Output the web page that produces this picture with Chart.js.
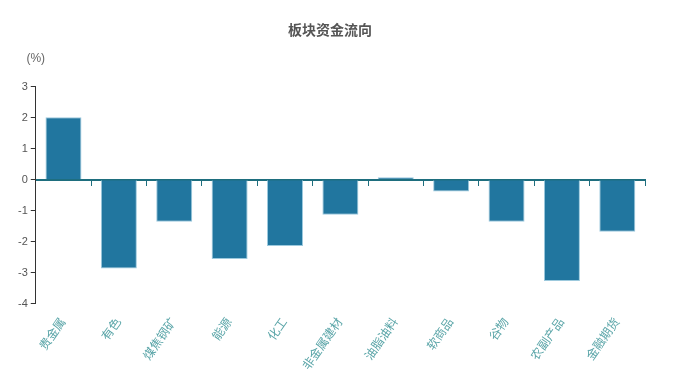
<!DOCTYPE html>
<html><head><meta charset="utf-8">
<script src="https://cdn.jsdelivr.net/npm/chart.js@4.4.1/dist/chart.umd.min.js"></script>
<style>html,body{margin:0;padding:0;background:#fff}#wrap{width:683px;height:383px}</style>
</head><body><div id="wrap"><canvas id="c"></canvas></div>
<script>
const categories = ['贵金属','有色','煤焦钢矿','能源','化工','非金属建材','油脂油料','软商品','谷物','农副产品','金融期货'];
const values = [2.02, -2.87, -1.36, -2.56, -2.14, -1.13, 0.08, -0.38, -1.36, -3.27, -1.68];
const yTicks = [3, 2, 1, 0, -1, -2, -3, -4];
const FONT = "'Liberation Sans', 'Noto Sans CJK SC', sans-serif";

const unitLabel = {
  id: 'unitLabel',
  afterDraw(chart) {
    const ctx = chart.ctx, a = chart.chartArea;
    ctx.save();
    ctx.font = '12px ' + FONT;
    ctx.fillStyle = '#666';
    ctx.textAlign = 'center';
    ctx.textBaseline = 'middle';
    ctx.fillText('(%)', a.left, a.top - 28);
    ctx.restore();
  }
};

new Chart(document.getElementById('c'), {
  type: 'bar',
  data: {
    labels: categories,
    datasets: [{
      data: values,
      backgroundColor: '#21769f',
      borderColor: '#9cc9dd',
      borderWidth: 1,
      categoryPercentage: 0.65,
      barPercentage: 1
    }]
  },
  options: {
    responsive: true,
    maintainAspectRatio: false,
    animation: false,
    layout: { padding: { left: 15, right: 38, top: 4, bottom: 6 } },
    plugins: {
      legend: { display: false },
      tooltip: { enabled: false },
      title: {
        display: true,
        text: '板块资金流向',
        color: '#555',
        font: { family: FONT, size: 14, weight: 'bold' },
        padding: { top: 19, bottom: 47 }
      }
    },
    scales: {
      x: {
        position: 'bottom',
        border: { display: false },
        grid: { display: false },
        ticks: {
          color: '#5aa5a8',
          font: { family: FONT, size: 12 },
          minRotation: 55,
          maxRotation: 55,
          padding: 4
        }
      },
      x0: {
        type: 'category',
        position: { y: 0 },
        offset: true,
        border: { display: true, color: '#1e6e7e', width: 2 },
        grid: { drawOnChartArea: false, drawTicks: true, tickLength: 5, color: '#1e6e7e', offset: true },
        ticks: { display: false }
      },
      y: {
        min: -4,
        max: 3,
        afterBuildTicks(axis) { axis.ticks = yTicks.map(v => ({ value: v })); },
        border: { display: true, color: '#333', width: 1 },
        grid: { drawOnChartArea: false, drawTicks: true, tickLength: 5, color: '#333' },
        ticks: {
          color: '#555',
          font: { family: FONT, size: 11 },
          padding: 3
        }
      }
    }
  },
  plugins: [unitLabel]
});
</script></body></html>
